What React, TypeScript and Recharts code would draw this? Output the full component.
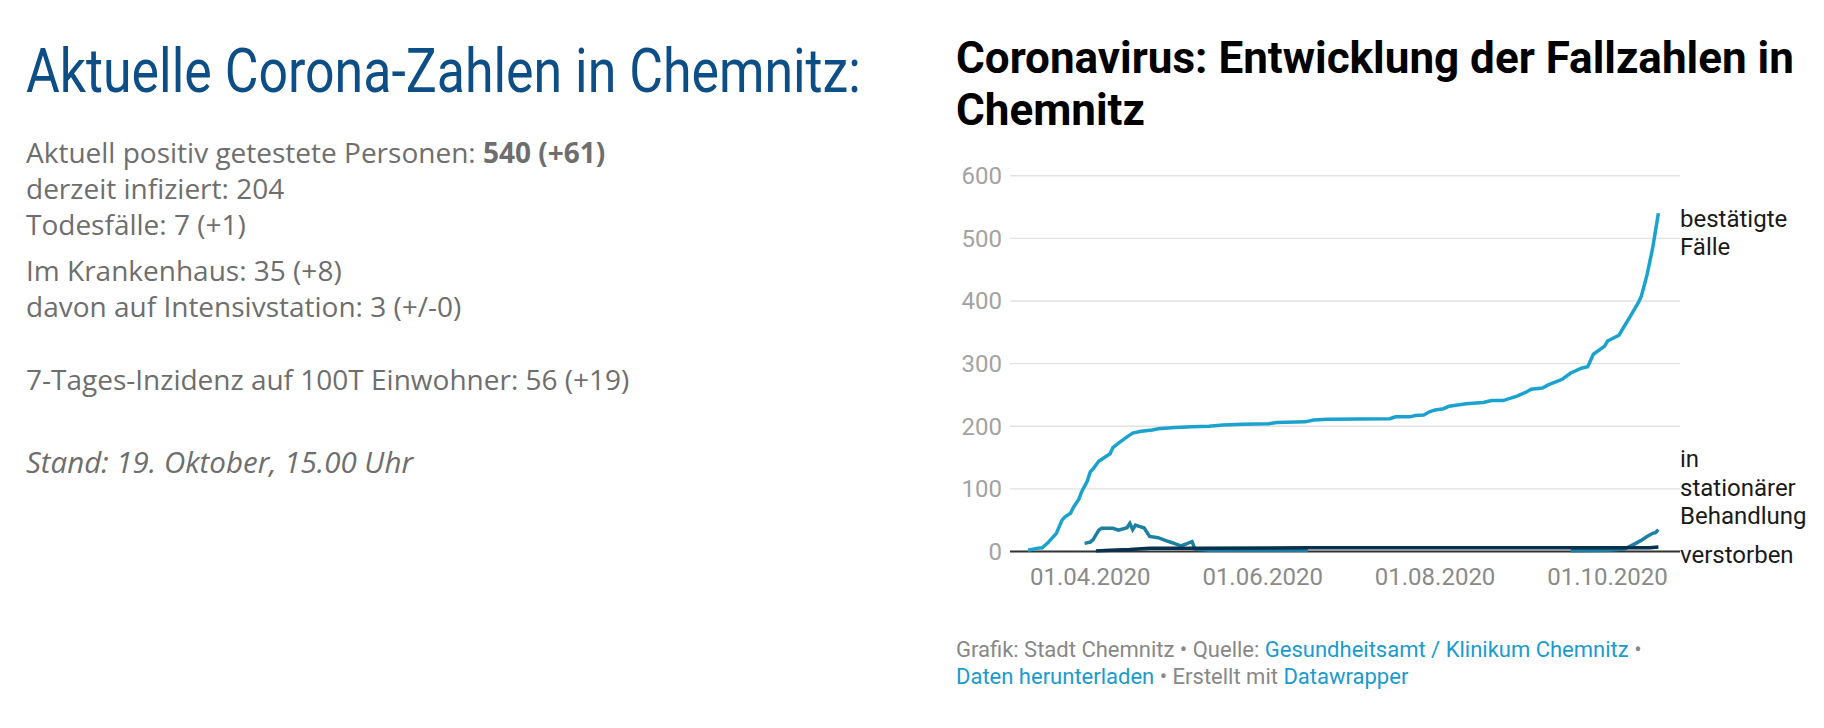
import React from "react";
import { LineChart, Line, XAxis, YAxis, CartesianGrid, ReferenceLine } from "recharts";

// bestätigte Fälle
const confirmedDates = [
  "2020-03-10", "2020-03-13", "2020-03-15", "2020-03-17", "2020-03-18", "2020-03-20",
  "2020-03-22", "2020-03-23", "2020-03-25", "2020-03-26", "2020-03-28", "2020-03-29",
  "2020-03-31", "2020-04-01", "2020-04-02", "2020-04-04", "2020-04-06", "2020-04-08",
  "2020-04-09", "2020-04-11", "2020-04-14", "2020-04-16", "2020-04-19", "2020-04-23",
  "2020-04-25", "2020-05-01", "2020-05-07", "2020-05-13", "2020-05-18", "2020-05-25",
  "2020-06-03", "2020-06-06", "2020-06-16", "2020-06-19", "2020-06-24", "2020-07-16",
  "2020-07-18", "2020-07-23", "2020-07-25", "2020-07-28", "2020-07-30", "2020-08-01",
  "2020-08-04", "2020-08-06", "2020-08-12", "2020-08-18", "2020-08-21", "2020-08-25",
  "2020-08-30", "2020-09-02", "2020-09-04", "2020-09-08", "2020-09-10", "2020-09-15",
  "2020-09-18", "2020-09-22", "2020-09-24", "2020-09-26", "2020-09-30", "2020-10-01",
  "2020-10-05", "2020-10-07", "2020-10-09", "2020-10-12", "2020-10-13", "2020-10-15",
  "2020-10-17", "2020-10-19",
];
const confirmedValues = [
  2, 5, 6, 14, 19, 29,
  50, 55, 61, 70, 84, 96,
  113, 127, 132, 144, 150, 156,
  166, 173, 183, 189, 192, 194,
  196, 198, 199, 200, 202, 203,
  204, 206, 207, 210, 211, 212,
  215, 215, 217, 218, 223, 226,
  228, 232, 236, 238, 241, 241,
  248, 254, 259, 261, 266, 275,
  285, 293, 295, 315, 328, 336,
  345, 360, 375, 398, 408, 442,
  485, 540,
];

// in stationärer Behandlung (null = Lücke in den Daten)
const hospitalDates = [
  "2020-03-30", "2020-04-01", "2020-04-02", "2020-04-04", "2020-04-05", "2020-04-09",
  "2020-04-11", "2020-04-14", "2020-04-15", "2020-04-16", "2020-04-17", "2020-04-19",
  "2020-04-20", "2020-04-22", "2020-04-25", "2020-04-28", "2020-04-30", "2020-05-03",
  "2020-05-05", "2020-05-07", "2020-05-08", "2020-05-13", "2020-06-17", "2020-07-20",
  "2020-09-18", "2020-10-01", "2020-10-07", "2020-10-11", "2020-10-13", "2020-10-15",
  "2020-10-17", "2020-10-18", "2020-10-19",
];
const hospitalValues: (number | null)[] = [
  13, 15, 19, 34, 37, 37,
  34, 38, 45, 35, 42, 39,
  38, 24, 22, 17, 14, 9,
  12, 16, 4, 2, 2, null,
  1, 2, 4, 13, 18, 24,
  29, 30, 35,
];

// verstorben
const deathDates = [
  "2020-04-03", "2020-04-08", "2020-04-15", "2020-04-22", "2020-05-08", "2020-06-17",
  "2020-10-16", "2020-10-19",
];
const deathValues = [1, 2, 3, 5, 5, 6, 6, 7];

const yTicks = [0, 100, 200, 300, 400, 500, 600];
const xTickDates = ["2020-04-01", "2020-06-01", "2020-08-01", "2020-10-01"];

const DAY = 86400000;
const toTime = (d: string) => Date.parse(d + "T00:00:00Z");
const toPoints = (dates: string[], values: (number | null)[]) =>
  dates.map((d, i) => ({ t: toTime(d), v: values[i] }));

const pad = (n: number) => (n < 10 ? "0" + n : "" + n);
const formatDate = (t: number) => {
  const d = new Date(t);
  return `${pad(d.getUTCDate())}.${pad(d.getUTCMonth() + 1)}.${d.getUTCFullYear()}`;
};

const confirmed = toPoints(confirmedDates, confirmedValues);
const hospital = toPoints(hospitalDates, hospitalValues);
const deaths = toPoints(deathDates, deathValues);

const xDomain = [toTime("2020-03-03") + 0.6 * DAY, toTime("2020-10-26") + 0.65 * DAY];

const GREY = "#6e6e6e";
const LINK = "#1a9bd0";

const App: React.FC = () => {
  return (
    <div
      style={{
        position: "absolute",
        left: 0,
        top: 0,
        width: 1824,
        height: 728,
        background: "#fff",
        overflow: "hidden",
      }}
    >
      {/* Text links, Titel, Fußzeile, Linienbeschriftungen */}
      <svg width={1824} height={728} style={{ position: "absolute", left: 0, top: 0 }}>
        {/* schmale Schrift: horizontal gestauchtes Roboto */}
        <g transform="translate(26 92) scale(0.834 1)">
          <text
            x={0}
            y={0}
            fontFamily="Roboto"
            fontWeight={400}
            fontSize={62}
            fill="#0c4e85"
            textLength={1001}
            lengthAdjust="spacingAndGlyphs"
          >
            Aktuelle Corona-Zahlen in Chemnitz:
          </text>
        </g>
        <g fontFamily="'Open Sans'" fontSize={28} fill={GREY}>
          <text x={26} y={163}>
            Aktuell positiv getestete Personen: <tspan fontWeight={700}>540 (+61)</tspan>
          </text>
          <text x={26} y={198.5}>derzeit infiziert: 204</text>
          <text x={26} y={234.5}>Todesfälle: 7 (+1)</text>
          <text x={26} y={281}>Im Krankenhaus: 35 (+8)</text>
          <text x={26} y={316.5}>davon auf Intensivstation: 3 (+/-0)</text>
          <text x={26} y={390}>7-Tages-Inzidenz auf 100T Einwohner: 56 (+19)</text>
          <text x={26} y={473} fontStyle="italic" fontSize={29.5}>
            Stand: 19. Oktober, 15.00 Uhr
          </text>
        </g>

        <g fontFamily="Roboto" fontWeight={700} fontSize={44} fill="#000">
          <text x={956} y={73}>Coronavirus: Entwicklung der Fallzahlen in</text>
          <text x={956} y={125}>Chemnitz</text>
        </g>

        <g fontFamily="Roboto" fontSize={24} fill="#1a1a1a">
          <text x={1680} y={226.7}>bestätigte</text>
          <text x={1680} y={255}>Fälle</text>
          <text x={1680} y={467.3}>in</text>
          <text x={1680} y={496}>stationärer</text>
          <text x={1680} y={524.3}>Behandlung</text>
          <text x={1680} y={563.3}>verstorben</text>
        </g>

        <g fontFamily="Roboto" fontSize={22} fill="#888">
          <text x={956} y={657}>
            Grafik: Stadt Chemnitz • Quelle: <tspan fill={LINK}>Gesundheitsamt / Klinikum Chemnitz</tspan> •
          </text>
          <text x={956} y={684}>
            <tspan fill={LINK}>Daten herunterladen</tspan> • Erstellt mit <tspan fill={LINK}>Datawrapper</tspan>
          </text>
        </g>
      </svg>

      {/* Diagramm */}
      <div style={{ position: "absolute", left: 940, top: 150 }}>
        <LineChart
          width={884}
          height={450}
          margin={{ top: 25.7, right: 144, left: 0, bottom: 8.5 }}
          style={{ fontFamily: "Roboto" }}
        >
          <CartesianGrid vertical={false} stroke="#e2e2e2" strokeWidth={1.4} />
          <XAxis
            dataKey="t"
            type="number"
            domain={xDomain}
            allowDataOverflow
            ticks={xTickDates.map(toTime)}
            tickFormatter={formatDate}
            tick={{ fill: "#8a8a8a", fontSize: 24, fontFamily: "Roboto" }}
            tickLine={false}
            axisLine={false}
            tickMargin={10}
            height={40}
          />
          <YAxis
            type="number"
            domain={[0, 600]}
            ticks={yTicks}
            tick={{ fill: "#a3a3a3", fontSize: 24, fontFamily: "Roboto" }}
            tickLine={false}
            axisLine={false}
            width={70}
          />
          <ReferenceLine y={0} stroke="#333" strokeWidth={2} />
          <Line
            data={confirmed}
            dataKey="v"
            type="linear"
            stroke="#1ba2cf"
            strokeWidth={3.5}
            dot={false}
            isAnimationActive={false}
          />
          <Line
            data={hospital}
            dataKey="v"
            type="linear"
            stroke="#1d80a3"
            strokeWidth={3.5}
            dot={false}
            isAnimationActive={false}
          />
          <Line
            data={deaths}
            dataKey="v"
            type="linear"
            stroke="#08304f"
            strokeWidth={3.5}
            dot={false}
            isAnimationActive={false}
          />
        </LineChart>
      </div>
    </div>
  );
};

export default App;
